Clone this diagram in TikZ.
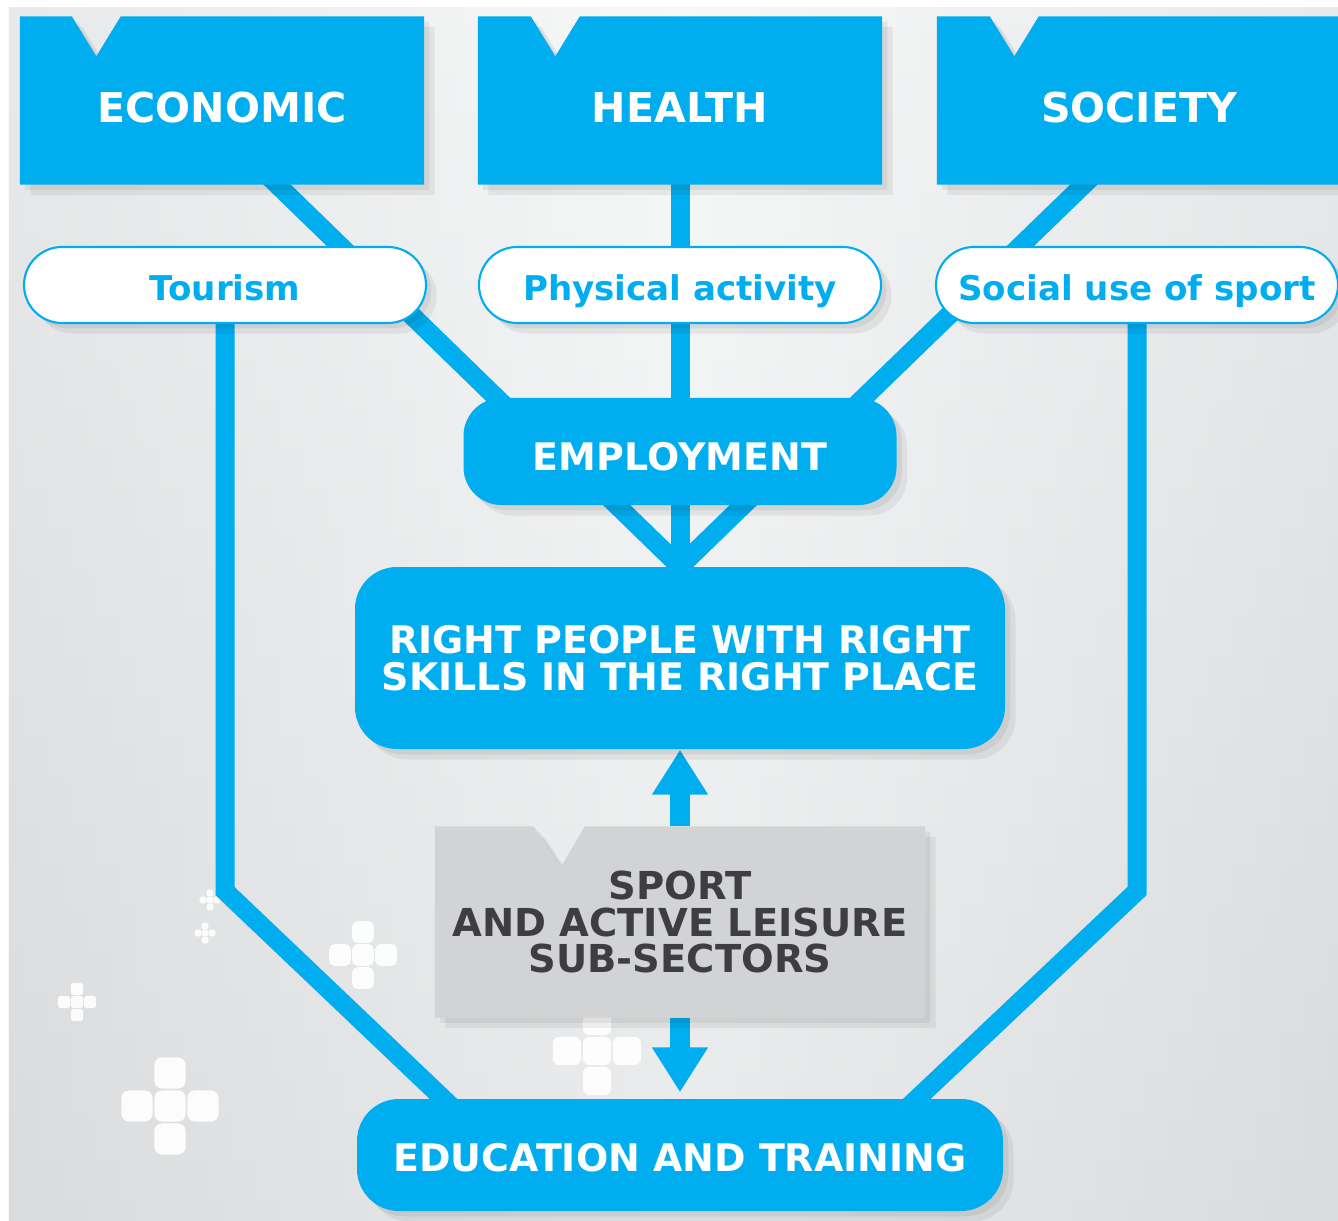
\documentclass[tikz,border=0pt]{standalone}
\usepackage{fontspec}
\setmainfont{DejaVu Sans}
\usepackage{xcolor}
\usepackage{tikz}
\usetikzlibrary{calc,arrows.meta}

\definecolor{skyblue}{HTML}{00AEEF}
\definecolor{panelgray}{HTML}{D1D3D4}
\definecolor{darktext}{HTML}{3E3E40}
\definecolor{bglight}{HTML}{F7F8F8}
\definecolor{bgdark}{HTML}{DADBDD}

\pgfdeclarelayer{back}
\pgfdeclarelayer{links}
\pgfsetlayers{back,links,main}

% white plus made of five rounded squares: centre x, centre y, unit
\newcommand{\plusdeco}[3]{%
  \foreach \dx/\dy in {0/0,1/0,-1/0,0/1,0/-1}
    \fill[white, opacity=0.92, rounded corners=#3*0.22cm]
      ({#1+(\dx-0.47)*#3},{#2+(\dy-0.47)*#3}) rectangle ++(0.94*#3,0.94*#3);}

\begin{document}
\begin{tikzpicture}[%
% soft offset shadow under boxes:
shadowed/.style = {preaction={fill=black, opacity=0.06,
            transform canvas={xshift=3pt, yshift=-3pt}},
            preaction={fill=black, opacity=0.06,
            transform canvas={xshift=1.5pt, yshift=-1.5pt}}},
% common options for the three headline boxes:
topbox/.style = {minimum width=4.03cm, minimum height=1.67cm, inner sep=0,
            text=white, text height=0.44cm, text depth=0,
            font=\fontsize{11.7}{12}\selectfont\bfseries},
% common options for the white pills:
pill/.style = {draw=skyblue, line width=0.6pt, fill=white, rounded corners=0.38cm,
            minimum width=4.02cm, minimum height=0.76cm, inner sep=0,
            text=skyblue, text height=0.30cm, text depth=0, shadowed,
            font=\fontsize{9.7}{10}\selectfont\bfseries},
% common options for the rounded blue boxes:
block/.style = {fill=skyblue, rounded corners=0.38cm, inner sep=0, align=center,
            text=white, font=\fontsize{10.8}{10.5}\selectfont\bfseries, shadowed},
% connectors:
link/.style = {draw=skyblue, line width=0.19cm},
flow/.style = {draw=skyblue, line width=0.2cm, -{Triangle[width=0.53cm,length=0.45cm]}}]

\useasboundingbox (0,0) rectangle (13.38,-12.21);

\node[topbox] (econ) at (2.22,-1.005) {ECONOMIC};
\node[topbox] (health) at (6.80,-1.005) {HEALTH};
\node[topbox] (soc) at (11.39,-1.005) {SOCIETY};

\node[pill] (tour) at (2.25,-2.85) {Tourism};
\node[pill] (phys) at (6.80,-2.85) {Physical activity};
\node[pill] (social) at (11.37,-2.85) {Social use of sport};

\node[block, minimum width=4.33cm, minimum height=1.07cm,
      text height=0.37cm, text depth=0] (emp) at (6.80,-4.515) {EMPLOYMENT};
\node[block, minimum width=6.50cm, minimum height=1.82cm, rounded corners=0.42cm]
      (rp) at (6.80,-6.58) {RIGHT PEOPLE WITH RIGHT\\SKILLS IN THE RIGHT PLACE};
\node[minimum width=4.89cm, minimum height=1.90cm, inner sep=0, align=center,
      text=darktext, font=\fontsize{10.95}{10.4}\selectfont\bfseries]
      (sport) at (6.80,-9.22) {SPORT\\AND ACTIVE LEISURE\\SUB-SECTORS};
\node[block, minimum width=6.46cm, minimum height=1.12cm, rounded corners=0.42cm,
      text height=0.32cm, text depth=0] (edu) at (6.80,-11.55) {EDUCATION AND TRAINING};

\begin{pgfonlayer}{back}
\fill[white] (0,0) rectangle (13.38,-12.21);
\shade[top color=bglight, bottom color=bgdark] (0.09,-0.07) rectangle (13.38,-12.21);
\shade[left color=bgdark, right color=bglight, opacity=0.5] (0.09,-0.07) rectangle (6.8,-12.21);
\shade[left color=bglight, right color=bgdark, opacity=0.5] (6.8,-0.07) rectangle (13.38,-12.21);
\plusdeco{1.70}{-11.06}{0.33}
\plusdeco{3.63}{-9.55}{0.23}
\plusdeco{0.77}{-10.02}{0.13}
\plusdeco{2.10}{-9.00}{0.07}
\plusdeco{2.05}{-9.33}{0.07}
\plusdeco{5.97}{-10.51}{0.30}
\end{pgfonlayer}

\begin{pgfonlayer}{links}
\draw[link] ($(econ.south)+(0.45,0.1)$) -- ($(emp.north west)+(0.64,-0.3)$);
\draw[link] ($(health.south)+(0,0.1)$) -- ($(emp.north)+(0,-0.1)$);
\draw[link] ($(soc.south)+(-0.45,0.1)$) -- ($(emp.north east)+(-0.64,-0.3)$);

\draw[link] ($(emp.south)+(-0.73,0.1)$) -- ($(rp.north)+(0.1,-0.1)$);
\draw[link] ($(emp.south)+(0,0.1)$) -- ($(rp.north)+(0,-0.1)$);
\draw[link] ($(emp.south)+(0.73,0.1)$) -- ($(rp.north)+(-0.1,-0.1)$);

\draw[link] ($(tour.south)+(0,0.1)$) -- ++(0,-5.77) -- ($(edu.north west)+(1.18,-0.3)$);
\draw[link] ($(social.south)+(0,0.1)$) -- ++(0,-5.77) -- ($(edu.north east)+(-1.18,-0.3)$);

\draw[flow] (sport.north) -- (rp.south);
\draw[flow] (sport.south) -- ($(edu.north)+(0,0.06)$);

% notched boxes behind their labels
\fill[skyblue, shadowed]
  (econ.north west) -- ++(0.52,0) -- ++(0.245,-0.40) -- ++(0.245,0.40)
  -- (econ.north east) -- (econ.south east) -- (econ.south west) -- cycle;
\fill[skyblue, shadowed]
  (health.north west) -- ++(0.53,0) -- ++(0.245,-0.40) -- ++(0.245,0.40)
  -- (health.north east) -- (health.south east) -- (health.south west) -- cycle;
\fill[skyblue, shadowed]
  (soc.north west) -- ++(0.53,0) -- ++(0.245,-0.40) -- ++(0.245,0.40)
  -- (soc.north east) -- (soc.south east) -- (soc.south west) -- cycle;
\fill[panelgray, shadowed]
  (sport.north west) -- ++(0.99,0) -- ++(0.27,-0.41) -- ++(0.24,0.41)
  -- (sport.north east) -- (sport.south east) -- (sport.south west) -- cycle;
\end{pgfonlayer}
\end{tikzpicture}
\end{document}
